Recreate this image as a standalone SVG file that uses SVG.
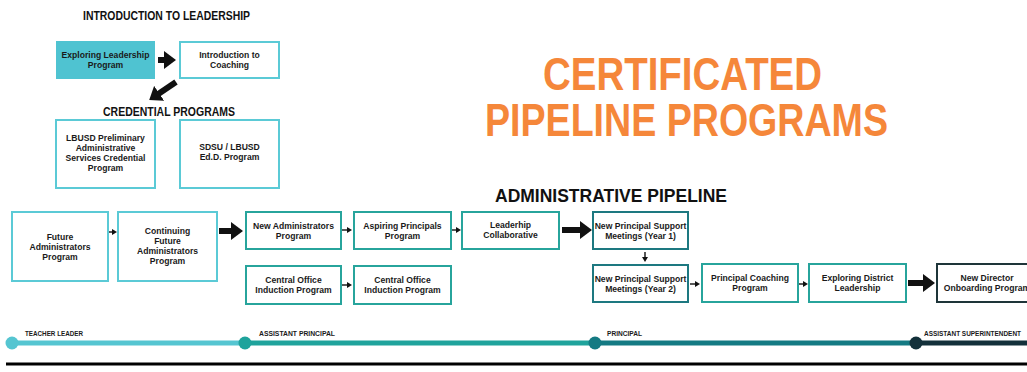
<svg xmlns="http://www.w3.org/2000/svg" width="1027" height="372" viewBox="0 0 1027 372">
<defs>
<style>
.bx{fill:#fff;stroke-width:2}
.lt{stroke:#5BCAD6}
.md{stroke:#27A49C}
.dk{stroke:#1D7880}
.xd{stroke:#1E3539}
.t{font-family:"Liberation Sans",Arial,sans-serif;font-weight:bold;font-size:8.6px;fill:#1a1a1a;text-anchor:middle}
.h{font-family:"Liberation Sans",Arial,sans-serif;font-weight:bold;fill:#111}
.ttl{font-family:"Liberation Sans",Arial,sans-serif;font-weight:bold;font-size:46px;fill:#F5873A}
.tl{font-family:"Liberation Sans",Arial,sans-serif;font-weight:bold;font-size:7.5px;fill:#1a1a1a}
.big{stroke:#111;stroke-width:6;fill:none;marker-end:url(#ahb)}
.sm{stroke:#111;stroke-width:1.4;fill:none;marker-end:url(#ahs)}
</style>
<marker id="ahb" viewBox="0 0 12 18" refX="2" refY="9" markerWidth="12" markerHeight="18" markerUnits="userSpaceOnUse" orient="auto"><path d="M0,0 L12,9 L0,18 z" fill="#111"/></marker>
<marker id="ahs" viewBox="0 0 5 6" refX="1" refY="3" markerWidth="5" markerHeight="6" markerUnits="userSpaceOnUse" orient="auto"><path d="M0,0 L5,3 L0,6 z" fill="#111"/></marker>
</defs>
<rect width="1027" height="372" fill="#fff"/>

<text class="h" x="83" y="20" font-size="12" textLength="167" lengthAdjust="spacingAndGlyphs">INTRODUCTION TO LEADERSHIP</text>
<text class="h" x="103" y="116" font-size="12" textLength="132" lengthAdjust="spacingAndGlyphs">CREDENTIAL PROGRAMS</text>
<text class="ttl" x="543" y="90" textLength="279" lengthAdjust="spacingAndGlyphs">CERTIFICATED</text>
<text class="ttl" x="485" y="136" textLength="403" lengthAdjust="spacingAndGlyphs">PIPELINE PROGRAMS</text>
<text class="h" x="495" y="202" font-size="19" textLength="232" lengthAdjust="spacingAndGlyphs">ADMINISTRATIVE PIPELINE</text>

<g id="exploring-leadership"><rect x="56" y="41" width="99" height="38" fill="#4FC3D1"/><text class="t" x="105.5" y="58">Exploring Leadership</text><text class="t" x="105.5" y="67.5">Program</text></g>
<g id="intro-coaching"><rect class="bx lt" x="180" y="42" width="99" height="36"/><text class="t" x="229.5" y="58">Introduction to</text><text class="t" x="229.5" y="67.5">Coaching</text></g>
<g id="lbusd-credential"><rect class="bx lt" x="56" y="120" width="99" height="68"/><text class="t" x="105.5" y="141">LBUSD Preliminary</text><text class="t" x="105.5" y="151">Administrative</text><text class="t" x="105.5" y="161">Services Credential</text><text class="t" x="105.5" y="171">Program</text></g>
<g id="sdsu-edd"><rect class="bx lt" x="180" y="120" width="99" height="68"/><text class="t" x="229.5" y="150">SDSU / LBUSD</text><text class="t" x="229.5" y="160">Ed.D. Program</text></g>

<g id="future-admin"><rect class="bx lt" x="12" y="212" width="96" height="69"/><text class="t" x="60" y="240">Future</text><text class="t" x="60" y="250">Administrators</text><text class="t" x="60" y="260">Program</text></g>
<g id="continuing-future-admin"><rect class="bx lt" x="118" y="212" width="99" height="69"/><text class="t" x="167.5" y="234">Continuing</text><text class="t" x="167.5" y="244">Future</text><text class="t" x="167.5" y="254">Administrators</text><text class="t" x="167.5" y="264">Program</text></g>
<g id="new-admin"><rect class="bx md" x="246" y="212" width="95" height="37"/><text class="t" x="293.5" y="229">New Administrators</text><text class="t" x="293.5" y="239">Program</text></g>
<g id="aspiring-principals"><rect class="bx md" x="354" y="212" width="97" height="37"/><text class="t" x="402.5" y="229">Aspiring Principals</text><text class="t" x="402.5" y="239">Program</text></g>
<g id="leadership-collab"><rect class="bx md" x="462" y="212" width="97" height="37"/><text class="t" x="510.5" y="228">Leaderhip</text><text class="t" x="510.5" y="238">Collaborative</text></g>
<g id="central-office-1"><rect class="bx md" x="246" y="266" width="95" height="38"/><text class="t" x="293.5" y="283">Central Office</text><text class="t" x="293.5" y="293">Induction Program</text></g>
<g id="central-office-2"><rect class="bx md" x="354" y="266" width="97" height="38"/><text class="t" x="402.5" y="283">Central Office</text><text class="t" x="402.5" y="293">Induction Program</text></g>
<g id="npsm-y1"><rect class="bx dk" x="593" y="212" width="95" height="37"/><text class="t" x="640.5" y="229">New Principal Support</text><text class="t" x="640.5" y="239">Meetings (Year 1)</text></g>
<g id="npsm-y2"><rect class="bx dk" x="593" y="265" width="95" height="37"/><text class="t" x="640.5" y="282">New Principal Support</text><text class="t" x="640.5" y="292">Meetings (Year 2)</text></g>
<g id="principal-coaching"><rect class="bx md" x="702" y="264" width="96" height="38"/><text class="t" x="750" y="281">Principal Coaching</text><text class="t" x="750" y="291">Program</text></g>
<g id="exploring-district"><rect class="bx md" x="809" y="264" width="97" height="38"/><text class="t" x="857.5" y="281">Exploring District</text><text class="t" x="857.5" y="291">Leadership</text></g>
<g id="new-director"><rect class="bx xd" x="937" y="264" width="100" height="38"/><text class="t" x="987" y="281">New Director</text><text class="t" x="987" y="291">Onboarding Program</text></g>

<g id="connectors">
<line class="big" x1="158" y1="60" x2="166" y2="60"/>
<line class="big" x1="176" y1="82" x2="157.5" y2="94.5"/>
<line class="big" x1="219" y1="231" x2="233" y2="231"/>
<line class="big" x1="562" y1="230" x2="582" y2="230"/>
<line class="big" x1="908" y1="283" x2="925" y2="283"/>
<line class="sm" x1="109" y1="232" x2="113" y2="232"/>
<line class="sm" x1="342" y1="230" x2="348" y2="230"/>
<line class="sm" x1="452" y1="230" x2="457" y2="230"/>
<line class="sm" x1="342" y1="285" x2="348" y2="285"/>
<line class="sm" x1="645" y1="252" x2="645" y2="258"/>
<line class="sm" x1="690" y1="284" x2="696" y2="284"/>
<line class="sm" x1="799" y1="284" x2="804" y2="284"/>
</g>

<g id="timeline">
<line x1="12" y1="343" x2="245" y2="343" stroke="#55C5D1" stroke-width="5"/>
<line x1="245" y1="343" x2="595" y2="343" stroke="#1FA39C" stroke-width="5"/>
<line x1="595" y1="343" x2="916" y2="343" stroke="#147A83" stroke-width="5"/>
<line x1="916" y1="343" x2="1027" y2="343" stroke="#13303A" stroke-width="5"/>
<circle cx="12" cy="343" r="6.5" fill="#55C5D1"/>
<circle cx="245" cy="343" r="6.5" fill="#1FA39C"/>
<circle cx="595" cy="343" r="6.5" fill="#147A83"/>
<circle cx="916" cy="343" r="6.5" fill="#13303A"/>
<text class="tl" x="25" y="336" textLength="58" lengthAdjust="spacingAndGlyphs">TEACHER LEADER</text>
<text class="tl" x="259" y="336" textLength="76" lengthAdjust="spacingAndGlyphs">ASSISTANT PRINCIPAL</text>
<text class="tl" x="607" y="336" textLength="35" lengthAdjust="spacingAndGlyphs">PRINCIPAL</text>
<text class="tl" x="924" y="336" textLength="97" lengthAdjust="spacingAndGlyphs">ASSISTANT SUPERINTENDENT</text>
</g>
<line x1="6" y1="364" x2="1027" y2="364" stroke="#000" stroke-width="3"/>
</svg>
